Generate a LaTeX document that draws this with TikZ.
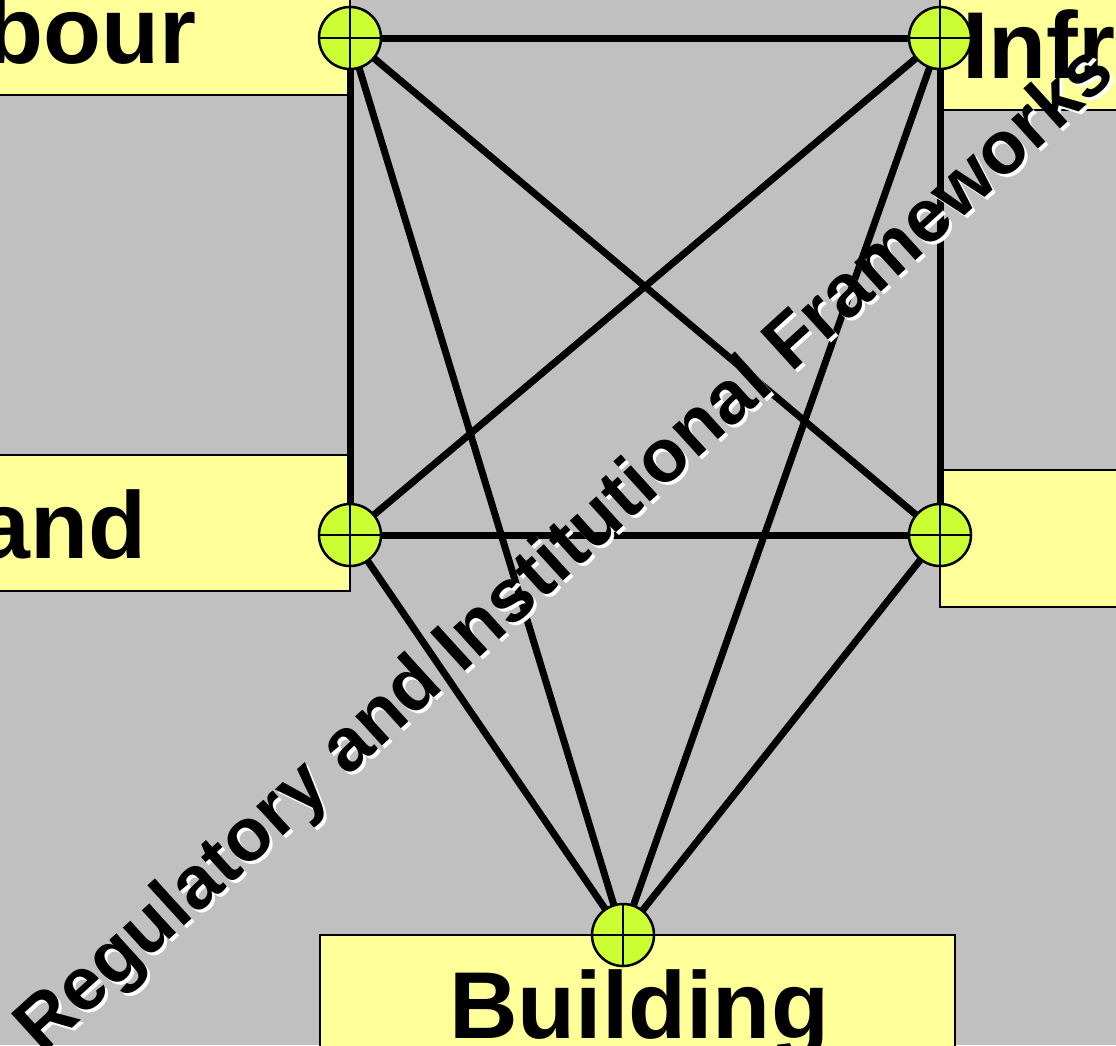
\documentclass[tikz,border=0pt]{standalone}
\usepackage{fontspec}
\setmainfont{Liberation Sans}
\definecolor{bggrey}{HTML}{C0C0C0}
\definecolor{boxyellow}{HTML}{FFFF99}
\definecolor{hubgreen}{HTML}{CCFF33}
\tikzset{
  panel/.style={draw=black, line width=2pt, fill=boxyellow},
  conn/.style={draw=black, line width=7pt},
  hub/.style={circle, draw=black, line width=2.5pt, fill=hubgreen, minimum size=62pt, inner sep=0pt,
    path picture={\draw[line width=2pt] (path picture bounding box.north) -- (path picture bounding box.south)
      (path picture bounding box.west) -- (path picture bounding box.east);}},
  boxlabel/.style={inner sep=0pt, font=\fontsize{95}{100}\selectfont\bfseries},
  slant/.style={inner sep=0pt, rotate=42.3, anchor=base, font=\fontsize{75}{80}\selectfont\bfseries}
}
\begin{document}
\begin{tikzpicture}[x=1pt,y=-1pt]
\useasboundingbox (0,0) rectangle (1116,1045);
\clip (0,0) rectangle (1116,1045);
\fill[bggrey] (0,0) rectangle (1116,1045);
% boxes
\node[panel, minimum width=650pt, minimum height=110pt] (boxlabour) at (25,40) {};
\node[panel, minimum width=400pt, minimum height=125pt] (boxinfra) at (1140,47.5) {};
\node[panel, minimum width=650pt, minimum height=136pt] (boxland) at (25,523) {};
\node[panel, minimum width=400pt, minimum height=137pt] (boxright) at (1140,538.5) {};
\node[panel, minimum width=635pt, minimum height=200pt] (boxbuild) at (637.5,1035) {};
% box texts
\node[boxlabel, anchor=base east] (tlabour) at (197,63) {Labour};
\node[boxlabel, anchor=base west] (tinfra) at (962,78) {Infrastructure};
\node[boxlabel, anchor=base east] (tland) at (147,558) {Land};
\node[boxlabel, anchor=base] (tbuild) at (639,1038) {Building};
% hub positions
\coordinate (p1) at (350,38);
\coordinate (p2) at (940,38);
\coordinate (p3) at (350,535);
\coordinate (p4) at (940,535);
\coordinate (p5) at (623,935);
% connectors
\draw[conn] (p1) -- (p2);
\draw[conn] (p1) -- (p3);
\draw[conn] (p2) -- (p4);
\draw[conn] (p3) -- (p4);
\draw[conn] (p1) -- (p4);
\draw[conn] (p2) -- (p3);
\draw[conn] (p1) -- (p5);
\draw[conn] (p2) -- (p5);
\draw[conn] (p3) -- (p5);
\draw[conn] (p4) -- (p5);
% hubs
\node[hub] (h1) at (p1) {};
\node[hub] (h2) at (p2) {};
\node[hub] (h3) at (p3) {};
\node[hub] (h4) at (p4) {};
\node[hub] (h5) at (p5) {};
% slanted title with white shadow
\node[slant, text=white] (shadow) at (583,569) {Regulatory and Institutional Frameworks};
\node[slant, text=black] (title) at (580,566) {Regulatory and Institutional Frameworks};
\end{tikzpicture}
\end{document}
